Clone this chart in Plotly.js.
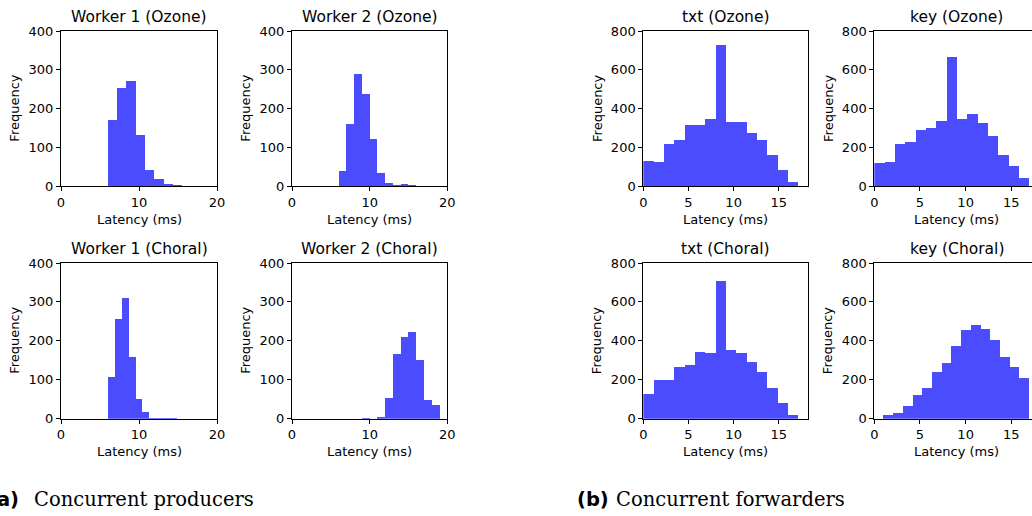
<!DOCTYPE html>
<html>
<head>
<meta charset="utf-8">
<script src="https://cdn.plot.ly/plotly-3.0.1.min.js"></script>
<style>
  html, body { margin: 0; padding: 0; background: #fff; overflow: hidden; }
  #chart { width: 1040px; height: 516px; }
</style>
</head>
<body>
<div id="chart"></div>
<script>
// ---------- data ----------
const panelTitles = [
  "Worker 1 (Ozone)", "Worker 2 (Ozone)", "Worker 1 (Choral)", "Worker 2 (Choral)",
  "txt (Ozone)", "key (Ozone)", "txt (Choral)", "key (Choral)"
];
// histogram bin start (ms) and bin width (ms) for each panel
const binStart = [6.0, 6.0, 6.0, 9.0, 0.0, 0.0, 0.0, 1.0];
const binSize  = [1.197, 1.0, 0.889, 1.0, 1.143, 1.131, 1.143, 1.063];

const worker1Ozone  = [170, 254, 271, 131, 42, 20, 6, 3, 2];
const worker2Ozone  = [40, 160, 288, 237, 121, 35, 8, 4, 6, 3];
const worker1Choral = [107, 255, 310, 158, 50, 18, 3, 3, 3, 2];
const worker2Choral = [2, 0, 4, 54, 167, 211, 223, 150, 47, 35];
const txtOzone  = [128, 123, 220, 241, 314, 314, 345, 728, 333, 333, 275, 241, 162, 84, 24];
const keyOzone  = [118, 123, 218, 226, 289, 300, 334, 664, 347, 374, 324, 261, 160, 105, 43];
const txtChoral = [125, 197, 197, 265, 276, 344, 339, 707, 354, 336, 289, 241, 159, 79, 20];
const keyChoral = [19, 31, 65, 120, 157, 241, 286, 373, 454, 481, 462, 404, 315, 265, 207];

const panelCounts = [worker1Ozone, worker2Ozone, worker1Choral, worker2Choral,
                     txtOzone, keyOzone, txtChoral, keyChoral];

const xTicksProducers  = [0, 10, 20];
const xTicksForwarders = [0, 5, 10, 15];
const yTicksProducers  = [0, 100, 200, 300, 400];
const yTicksForwarders = [0, 200, 400, 600, 800];
const xAxisLabel = "Latency (ms)";
const yAxisLabel = "Frequency";
const captionA = ["(a)", "Concurrent producers"];
const captionB = ["(b)", "Concurrent forwarders"];

// ---------- layout geometry (pixels) ----------
const W = 1040, H = 516;
const px = p => p / W;
const py = p => 1 - p / H;

const boxes = [
  {l: 61,    r: 217,    t: 31,  b: 186.3, xr: [0, 20],   xt: xTicksProducers,  yr: [0, 400], yt: yTicksProducers},
  {l: 292,   r: 447.3,  t: 31,  b: 186.3, xr: [0, 20],   xt: xTicksProducers,  yr: [0, 400], yt: yTicksProducers},
  {l: 61,    r: 217,    t: 263, b: 418.7, xr: [0, 20],   xt: xTicksProducers,  yr: [0, 400], yt: yTicksProducers},
  {l: 292,   r: 447.3,  t: 263, b: 418.7, xr: [0, 20],   xt: xTicksProducers,  yr: [0, 400], yt: yTicksProducers},
  {l: 643.3, r: 807.7,  t: 31,  b: 186.3, xr: [0, 18.2], xt: xTicksForwarders, yr: [0, 800], yt: yTicksForwarders},
  {l: 874.3, r: 1038.7, t: 31,  b: 186.3, xr: [0, 18.0], xt: xTicksForwarders, yr: [0, 800], yt: yTicksForwarders},
  {l: 643.3, r: 807.7,  t: 263, b: 418.7, xr: [0, 18.2], xt: xTicksForwarders, yr: [0, 800], yt: yTicksForwarders},
  {l: 874.3, r: 1038.7, t: 263, b: 418.7, xr: [0, 18.0], xt: xTicksForwarders, yr: [0, 800], yt: yTicksForwarders}
];

const FONT = "DejaVu Sans, sans-serif";
const barColor = "rgba(0,0,255,0.7)";

const traces = [];
const layout = {
  width: W, height: H,
  margin: {l: 0, r: 0, t: 0, b: 0},
  paper_bgcolor: "#fff", plot_bgcolor: "#fff",
  showlegend: false,
  font: {family: FONT, size: 13, color: "#000"},
  bargap: 0,
  annotations: []
};

boxes.forEach((bx, i) => {
  const n = i + 1;
  const xa = n === 1 ? "x" : "x" + n;
  const ya = n === 1 ? "y" : "y" + n;
  const counts = panelCounts[i];
  const centers = counts.map((_, k) => binStart[i] + binSize[i] * (k + 0.5));
  traces.push({
    type: "bar", x: centers, y: counts,
    width: counts.map(() => binSize[i]),
    marker: {color: barColor, line: {width: 0}},
    xaxis: xa, yaxis: ya, hoverinfo: "x+y"
  });
  const axCommon = {
    showline: true, mirror: true, linecolor: "#000", linewidth: 1,
    ticks: "outside", ticklen: 4, tickwidth: 1, tickcolor: "#000",
    showgrid: false, zeroline: false, fixedrange: true,
    tickfont: {family: FONT, size: 13, color: "#000"}
  };
  layout[n === 1 ? "xaxis" : "xaxis" + n] = Object.assign({}, axCommon, {
    domain: [px(bx.l), px(bx.r)], anchor: ya, range: bx.xr,
    tickmode: "array", tickvals: bx.xt
  });
  layout[n === 1 ? "yaxis" : "yaxis" + n] = Object.assign({}, axCommon, {
    domain: [py(bx.b), py(bx.t)], anchor: xa, range: bx.yr,
    tickmode: "array", tickvals: bx.yt
  });
  const cx = (bx.l + bx.r) / 2, cy = (bx.t + bx.b) / 2;
  // subplot title
  layout.annotations.push({
    xref: "paper", yref: "paper", x: px(cx), y: py(bx.t - 14),
    xanchor: "center", yanchor: "middle", showarrow: false,
    text: panelTitles[i], font: {family: FONT, size: 15.5, color: "#000"}
  });
  // x axis title
  layout.annotations.push({
    xref: "paper", yref: "paper", x: px(cx), y: py(bx.b + 33),
    xanchor: "center", yanchor: "middle", showarrow: false,
    text: xAxisLabel, font: {family: FONT, size: 13, color: "#000"}
  });
  // y axis title
  layout.annotations.push({
    xref: "paper", yref: "paper", x: px(bx.l - 46), y: py(cy),
    xanchor: "center", yanchor: "middle", showarrow: false, textangle: -90,
    text: yAxisLabel, font: {family: FONT, size: 13, color: "#000"}
  });
});

// captions
layout.annotations.push(
  {xref: "paper", yref: "paper", x: px(21), y: py(499), xanchor: "right", yanchor: "middle",
   showarrow: false, text: "<b>" + captionA[0] + "</b>", font: {family: "DejaVu Sans", size: 19.5, color: "#000"}},
  {xref: "paper", yref: "paper", x: px(32), y: py(499), xanchor: "left", yanchor: "middle",
   showarrow: false, text: captionA[1], font: {family: "DejaVu Serif", size: 19.5, color: "#000"}},
  {xref: "paper", yref: "paper", x: px(575), y: py(499), xanchor: "left", yanchor: "middle",
   showarrow: false, text: "<b>" + captionB[0] + "</b>", font: {family: "DejaVu Sans", size: 19.5, color: "#000"}},
  {xref: "paper", yref: "paper", x: px(614), y: py(499), xanchor: "left", yanchor: "middle",
   showarrow: false, text: captionB[1], font: {family: "DejaVu Serif", size: 19.5, color: "#000"}}
);

Plotly.newPlot("chart", traces, layout, {staticPlot: true, displayModeBar: false});
</script>
</body>
</html>
